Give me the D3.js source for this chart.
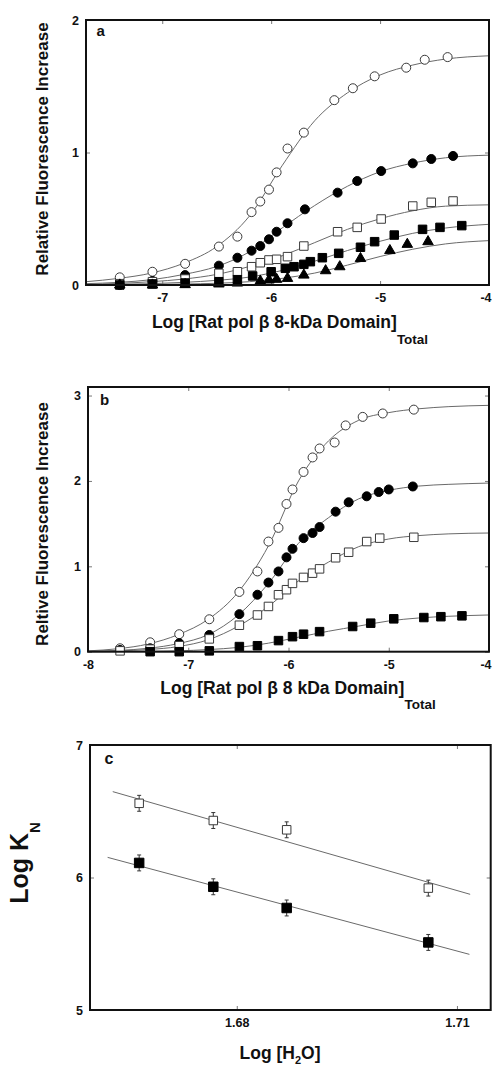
<!DOCTYPE html>
<html><head><meta charset="utf-8">
<script src="https://cdn.jsdelivr.net/npm/d3@7"></script>
<style>
html,body{margin:0;padding:0;background:#fff;}
svg{display:block;font-family:"Liberation Sans",Arial,Helvetica,sans-serif;}
</style></head><body>
<svg id="chart" width="492" height="1067"></svg>
<script>
// ---------------- Panel a data ----------------
const aOpenCircleX = [-7.39,-7.09,-6.79,-6.48,-6.31,-6.18,-6.10,-6.02,-5.95,-5.85,-5.70,-5.42,-5.25,-5.05,-4.76,-4.59,-4.38];
const aOpenCircleY = [0.058,0.10,0.16,0.29,0.365,0.55,0.63,0.72,0.85,1.03,1.15,1.395,1.485,1.575,1.64,1.70,1.72];
const aFilledCircleX = [-7.39,-7.09,-6.79,-6.48,-6.31,-6.18,-6.10,-6.02,-5.95,-5.85,-5.69,-5.39,-5.21,-4.99,-4.70,-4.53,-4.33];
const aFilledCircleY = [0.0,0.03,0.075,0.146,0.206,0.259,0.294,0.345,0.402,0.466,0.571,0.697,0.785,0.86,0.918,0.951,0.974];
const aOpenSquareX = [-7.39,-7.09,-6.79,-6.48,-6.31,-6.18,-6.10,-6.02,-5.95,-5.85,-5.70,-5.39,-5.21,-4.99,-4.70,-4.53,-4.33];
const aOpenSquareY = [0.01,0.025,0.045,0.088,0.10,0.138,0.168,0.189,0.194,0.214,0.294,0.402,0.435,0.498,0.596,0.624,0.634];
const aFilledSquareX = [-7.39,-7.09,-6.79,-6.48,-6.31,-6.17,-6.00,-5.87,-5.79,-5.70,-5.64,-5.53,-5.38,-5.18,-5.05,-4.87,-4.61,-4.45,-4.25];
const aFilledSquareY = [0.0,0.008,0.015,0.025,0.04,0.068,0.10,0.126,0.138,0.156,0.176,0.206,0.239,0.285,0.327,0.377,0.42,0.435,0.448];
const aTriangleX = [-7.39,-7.09,-6.79,-6.48,-6.31,-6.10,-6.02,-5.95,-5.85,-5.70,-5.50,-5.37,-5.18,-4.91,-4.75,-4.56];
const aTriangleY = [0.0,0.0,0.003,0.008,0.015,0.03,0.038,0.043,0.05,0.075,0.108,0.138,0.20,0.26,0.307,0.327];
// fitted curves (at these x)
const aFitX = [-7.7,-7.4,-7.1,-6.8,-6.5,-6.2,-5.9,-5.6,-5.3,-5.0,-4.7,-4.4,-4.0];
const aFitOpenCircle = [0.025,0.05,0.09,0.165,0.29,0.52,0.90,1.24,1.45,1.585,1.66,1.705,1.73];
const aFitFilledCircle = [0.01,0.02,0.04,0.08,0.14,0.25,0.43,0.60,0.745,0.855,0.92,0.96,0.98];
const aFitOpenSquare = [0.005,0.012,0.025,0.045,0.08,0.14,0.22,0.32,0.42,0.50,0.56,0.595,0.605];
const aFitFilledSquare = [0.002,0.005,0.01,0.02,0.035,0.06,0.11,0.18,0.26,0.33,0.39,0.43,0.458];
const aFitTriangle = [0.0,0.002,0.004,0.007,0.013,0.025,0.05,0.09,0.15,0.215,0.27,0.31,0.335];
const aXTicks = [-7,-6,-5,-4];
const aXTickLabels = ["-7","-6","-5","-4"];
const aYTicks = [0,1,2];
const aYTickLabels = ["0","1","2"];

// ---------------- Panel b data ----------------
const bOpenCircleX = [-7.68,-7.38,-7.09,-6.79,-6.49,-6.31,-6.20,-6.10,-6.02,-5.96,-5.85,-5.76,-5.69,-5.54,-5.43,-5.26,-5.06,-4.75];
const bOpenCircleY = [0.04,0.11,0.205,0.38,0.70,0.94,1.29,1.45,1.73,1.90,2.105,2.275,2.38,2.45,2.65,2.75,2.79,2.835];
const bFilledCircleX = [-7.68,-7.38,-7.09,-6.79,-6.49,-6.31,-6.20,-6.10,-6.02,-5.96,-5.85,-5.76,-5.69,-5.53,-5.40,-5.22,-5.10,-5.00,-4.76];
const bFilledCircleY = [0.02,0.04,0.10,0.196,0.44,0.667,0.81,0.94,1.105,1.205,1.33,1.39,1.46,1.64,1.75,1.82,1.87,1.90,1.935];
const bOpenSquareX = [-7.68,-7.38,-7.09,-6.79,-6.49,-6.31,-6.20,-6.10,-6.02,-5.96,-5.85,-5.76,-5.69,-5.53,-5.40,-5.22,-5.09,-4.75];
const bOpenSquareY = [0.01,0.03,0.07,0.15,0.31,0.43,0.53,0.667,0.726,0.80,0.87,0.92,0.97,1.10,1.165,1.29,1.33,1.34];
const bFilledSquareX = [-7.38,-7.09,-6.79,-6.49,-6.31,-6.10,-5.96,-5.85,-5.69,-5.36,-5.18,-4.95,-4.65,-4.48,-4.27];
const bFilledSquareY = [0.0,0.0,0.01,0.06,0.07,0.13,0.176,0.205,0.235,0.295,0.334,0.385,0.40,0.41,0.42];
const bFitX = [-8,-7.7,-7.4,-7.1,-6.8,-6.5,-6.2,-5.9,-5.6,-5.3,-5.0,-4.7,-4.4,-4.0];
const bFitOpenCircle = [0.01,0.035,0.09,0.20,0.38,0.70,1.24,2.0,2.47,2.71,2.80,2.845,2.87,2.885];
const bFitFilledCircle = [0.005,0.015,0.04,0.095,0.20,0.43,0.80,1.27,1.57,1.79,1.89,1.94,1.96,1.975];
const bFitOpenSquare = [0.003,0.01,0.025,0.06,0.14,0.30,0.53,0.83,1.05,1.23,1.32,1.36,1.38,1.39];
const bFitFilledSquare = [0.0,0.002,0.005,0.01,0.025,0.05,0.10,0.17,0.24,0.30,0.36,0.395,0.415,0.43];
const bXTicks = [-8,-7,-6,-5,-4];
const bXTickLabels = ["-8","-7","-6","-5","-4"];
const bYTicks = [0,1,2,3];
const bYTickLabels = ["0","1","2","3"];

// ---------------- Panel c data ----------------
const cX = [1.6667,1.6768,1.6868,1.7061];
const cOpenY = [6.56,6.43,6.36,5.92];
const cFilledY = [6.11,5.93,5.77,5.51];
const cOpenErr = [0.06,0.06,0.06,0.06];
const cFilledErr = [0.06,0.06,0.06,0.06];
const cFitOpenX = [1.6631,1.7118];
const cFitOpenY = [6.648,5.873];
const cFitFilledX = [1.6624,1.7117];
const cFitFilledY = [6.152,5.42];
const cXTicks = [1.68,1.71];
const cXTickLabels = ["1.68","1.71"];
const cYTicks = [5,6,7];
const cYTickLabels = ["5","6","7"];

// ---------------- drawing ----------------
const svg = d3.select("#chart");
svg.append("rect").attr("width",492).attr("height",1067).attr("fill","#fff");

const FIT = "#6a6a6a";
const OPEN_STROKE = "#3a3a3a";
const W = 492;

function panel(cfg){
  const g = svg.append("g");
  const x = d3.scaleLinear().domain(cfg.xDomain).range([cfg.left,cfg.right]);
  const y = d3.scaleLinear().domain(cfg.yDomain).range([cfg.bottom,cfg.top]);
  const fmtX = d => cfg.xTickLabels[cfg.xTicks.indexOf(d)];
  const fmtY = d => cfg.yTickLabels[cfg.yTicks.indexOf(d)];
  const axB = g.append("g").attr("transform",`translate(0,${cfg.bottom})`)
    .call(d3.axisBottom(x).tickValues(cfg.xTicks).tickSizeInner(-4).tickSizeOuter(0).tickPadding(8).tickFormat(fmtX));
  const axT = g.append("g").attr("transform",`translate(0,${cfg.top})`)
    .call(d3.axisTop(x).tickValues(cfg.xTicks).tickSizeInner(-4).tickSizeOuter(0).tickFormat(""));
  const axL = g.append("g").attr("transform",`translate(${cfg.left},0)`)
    .call(d3.axisLeft(y).tickValues(cfg.yTicks).tickSizeInner(-4).tickSizeOuter(0).tickPadding(7).tickFormat(fmtY));
  const axR = g.append("g").attr("transform",`translate(${cfg.right},0)`)
    .call(d3.axisRight(y).tickValues(cfg.yTicks).tickSizeInner(-4).tickSizeOuter(0).tickFormat(""));
  [axB,axT,axL,axR].forEach(a=>{
    a.select(".domain").remove();
    a.selectAll(".tick line").attr("stroke","#555").attr("stroke-width",0.8);
    a.selectAll(".tick text").attr("font-size",12.5).attr("font-weight","bold").attr("fill","#111")
      .attr("font-family",'"Liberation Sans",Arial,sans-serif');
  });
  // keep labels at the right edge inside the picture
  axB.selectAll(".tick").each(function(d){
    const px = x(d);
    const t = d3.select(this).select("text");
    const w = t.node().getComputedTextLength();
    if(px + w/2 > W - 1){
      t.attr("text-anchor","end").attr("x", (W - 1) - px);
    }
  });
  return {g,x,y};
}

function frame(cfg){
  svg.append("rect").attr("x",cfg.left).attr("y",cfg.top)
    .attr("width",cfg.right-cfg.left).attr("height",cfg.bottom-cfg.top)
    .attr("fill","none").attr("stroke","#111").attr("stroke-width",2);
}

function fitCurve(P, xs, ys){
  const line = d3.line().x(d=>P.x(d[0])).y(d=>P.y(d[1])).curve(d3.curveMonotoneX);
  P.g.append("path").attr("d",line(d3.zip(xs,ys))).attr("fill","none")
    .attr("stroke",FIT).attr("stroke-width",1);
}

function markers(P, xs, ys, shape, filled, size){
  const data = d3.zip(xs,ys);
  const sel = P.g.append("g").selectAll("path").data(data).join("path");
  let sym;
  if(shape==="circle") sym = d3.symbol(d3.symbolCircle, Math.PI*size*size/4);
  else if(shape==="square") sym = d3.symbol(d3.symbolSquare, size*size);
  else sym = d3.symbol(d3.symbolTriangle, size*size*0.48);
  sel.attr("d",sym).attr("transform",d=>`translate(${P.x(d[0])},${P.y(d[1])})`)
    .attr("fill",filled?"#000":"#fff").attr("stroke",filled?"#000":OPEN_STROKE)
    .attr("stroke-width",1);
}

function label(txt,x,y,size){
  svg.append("text").attr("x",x).attr("y",y).attr("font-size",size).attr("font-weight","bold")
    .attr("fill","#111").text(txt);
}

// ----- Panel a -----
const cfgA = {left:86,right:489,top:20,bottom:285,xDomain:[-7.7,-4],yDomain:[0,2],
  xTicks:aXTicks,xTickLabels:aXTickLabels,yTicks:aYTicks,yTickLabels:aYTickLabels};
const PA = panel(cfgA);
fitCurve(PA,aFitX,aFitOpenCircle);
fitCurve(PA,aFitX,aFitFilledCircle);
fitCurve(PA,aFitX,aFitOpenSquare);
fitCurve(PA,aFitX,aFitFilledSquare);
fitCurve(PA,aFitX,aFitTriangle);
markers(PA,aOpenCircleX,aOpenCircleY,"circle",false,9);
markers(PA,aFilledCircleX,aFilledCircleY,"circle",true,9);
markers(PA,aOpenSquareX,aOpenSquareY,"square",false,8.5);
markers(PA,aFilledSquareX,aFilledSquareY,"square",true,8.5);
markers(PA,aTriangleX,aTriangleY,"triangle",true,10);
frame(cfgA);
label("a",96.5,36,15);

svg.append("text").attr("transform","translate(48,149) rotate(-90)").attr("text-anchor","middle")
  .attr("font-size",17).attr("font-weight","bold").attr("fill","#111").text("Relative Fluorescence Increase");
{
  const t = svg.append("text").attr("x",290).attr("y",328).attr("text-anchor","middle")
    .attr("font-size",17.5).attr("font-weight","bold").attr("fill","#111");
  t.append("tspan").text("Log [Rat pol \u03B2 8-kDa Domain]");
  t.append("tspan").attr("dy",16).attr("font-size",13.5).text("Total");
}

// ----- Panel b -----
const cfgB = {left:88,right:489,top:387,bottom:651.7,xDomain:[-8,-4],yDomain:[0,3.1],
  xTicks:bXTicks,xTickLabels:bXTickLabels,yTicks:bYTicks,yTickLabels:bYTickLabels};
const PB = panel(cfgB);
fitCurve(PB,bFitX,bFitOpenCircle);
fitCurve(PB,bFitX,bFitFilledCircle);
fitCurve(PB,bFitX,bFitOpenSquare);
fitCurve(PB,bFitX,bFitFilledSquare);
markers(PB,bOpenCircleX,bOpenCircleY,"circle",false,9);
markers(PB,bFilledCircleX,bFilledCircleY,"circle",true,9);
markers(PB,bOpenSquareX,bOpenSquareY,"square",false,8.5);
markers(PB,bFilledSquareX,bFilledSquareY,"square",true,8.5);
frame(cfgB);
label("b",100,405,15);

svg.append("text").attr("transform","translate(48,524) rotate(-90)").attr("text-anchor","middle")
  .attr("font-size",17).attr("font-weight","bold").attr("fill","#111").text("Reltive Fluorescence Increase");
{
  const t = svg.append("text").attr("x",298).attr("y",694).attr("text-anchor","middle")
    .attr("font-size",17.5).attr("font-weight","bold").attr("fill","#111");
  t.append("tspan").text("Log [Rat pol \u03B2 8 kDa Domain]");
  t.append("tspan").attr("dy",15).attr("font-size",13.5).text("Total");
}

// ----- Panel c -----
const cfgC = {left:90,right:490.7,top:745,bottom:1010,xDomain:[1.66,1.7146],yDomain:[5,7],
  xTicks:cXTicks,xTickLabels:cXTickLabels,yTicks:cYTicks,yTickLabels:cYTickLabels};
const PC = panel(cfgC);
{
  const line = d3.line().x(d=>PC.x(d[0])).y(d=>PC.y(d[1]));
  PC.g.append("path").attr("d",line(d3.zip(cFitOpenX,cFitOpenY))).attr("stroke",FIT).attr("stroke-width",1).attr("fill","none");
  PC.g.append("path").attr("d",line(d3.zip(cFitFilledX,cFitFilledY))).attr("stroke",FIT).attr("stroke-width",1).attr("fill","none");
  const eb = (ys,errs)=>{
    const data = d3.zip(cX,ys,errs);
    const gg = PC.g.append("g").attr("stroke","#333").attr("stroke-width",1);
    gg.selectAll("line.v").data(data).join("line").attr("class","v")
      .attr("x1",d=>PC.x(d[0])).attr("x2",d=>PC.x(d[0])).attr("y1",d=>PC.y(d[1]-d[2])).attr("y2",d=>PC.y(d[1]+d[2]));
    gg.selectAll("line.t").data(data).join("line").attr("class","t")
      .attr("x1",d=>PC.x(d[0])-2).attr("x2",d=>PC.x(d[0])+2).attr("y1",d=>PC.y(d[1]+d[2])).attr("y2",d=>PC.y(d[1]+d[2]));
    gg.selectAll("line.b").data(data).join("line").attr("class","b")
      .attr("x1",d=>PC.x(d[0])-2).attr("x2",d=>PC.x(d[0])+2).attr("y1",d=>PC.y(d[1]-d[2])).attr("y2",d=>PC.y(d[1]-d[2]));
  };
  eb(cOpenY,cOpenErr);
  eb(cFilledY,cFilledErr);
  markers(PC,cX,cOpenY,"square",false,8.5);
  markers(PC,cX,cFilledY,"square",true,9.5);
}
frame(cfgC);
label("c",104.5,764,16);

{
  const t = svg.append("text").attr("transform","translate(28,863) rotate(-90)").attr("text-anchor","middle")
    .attr("font-size",25).attr("font-weight","bold").attr("fill","#111");
  t.append("tspan").text("Log K");
  t.append("tspan").attr("dy",12).attr("font-size",15).text("N");
}
{
  const t = svg.append("text").attr("x",280).attr("y",1059).attr("text-anchor","middle")
    .attr("font-size",17.5).attr("font-weight","bold").attr("fill","#111");
  t.append("tspan").text("Log [H");
  t.append("tspan").attr("dy",5).attr("font-size",11).text("2");
  t.append("tspan").attr("dy",-5).text("O]");
}
</script>
</body></html>
